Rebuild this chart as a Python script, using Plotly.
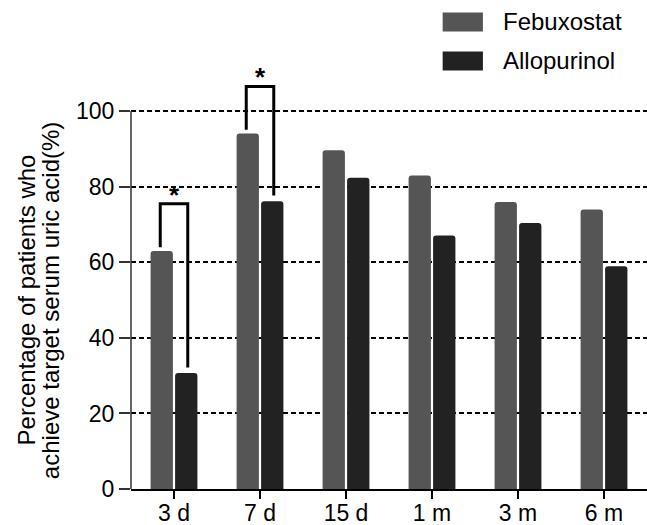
import plotly.graph_objects as go

# ---- data ----
categories = ["3 d", "7 d", "15 d", "1 m", "3 m", "6 m"]
febuxostat = [63.0, 94.1, 89.7, 83.0, 76.0, 74.0]
allopurinol = [30.7, 76.2, 82.4, 67.1, 70.4, 59.0]
series_names = ["Febuxostat", "Allopurinol"]
significant = ["3 d", "7 d"]
y_ticks = [0, 20, 40, 60, 80, 100]

FONT = "Liberation Sans, Arial, Helvetica, sans-serif"
C_FEB = "#555555"
C_ALLO = "#222222"

fig = go.Figure()
fig.add_trace(go.Bar(x=categories, y=febuxostat, name=series_names[0],
                     marker=dict(color=C_FEB, line=dict(width=0), cornerradius=3)))
fig.add_trace(go.Bar(x=categories, y=allopurinol, name=series_names[1],
                     marker=dict(color=C_ALLO, line=dict(width=0), cornerradius=3)))

shapes = []
annotations = []

# significance brackets
for cat in significant:
    i = categories.index(cat)
    f, a = febuxostat[i], allopurinol[i]
    top = max(f, a) + 12.5
    dx = 0.16
    shapes.append(dict(type="path", xref="x", yref="y",
                       path=f"M {i-dx},{f+1} L {i-dx},{top} L {i+dx},{top} L {i+dx},{a+1.5}",
                       line=dict(color="black", width=3)))
    annotations.append(dict(x=i, y=top, xref="x", yref="y", text="<b>*</b>", showarrow=False,
                            yanchor="middle", yshift=9,
                            font=dict(family=FONT, size=26, color="black")))

# y axis line (0..100 only)
shapes.append(dict(type="line", xref="paper", yref="y", x0=0, x1=0, y0=0, y1=max(y_ticks),
                   line=dict(color="#333333", width=1.5)))

# custom legend
legend_rows = [(1.1267, 1.0818, C_FEB), (1.0345, 0.9896, C_ALLO)]
for name, (y1, y0, col) in zip(series_names, legend_rows):
    shapes.append(dict(type="rect", xref="paper", yref="paper", x0=0.604, x1=0.682,
                       y0=y0, y1=y1, fillcolor=col, line=dict(width=0)))
    annotations.append(dict(x=0.717, y=(y0 + y1) / 2, xref="paper", yref="paper",
                            text=name, showarrow=False, xanchor="left", yanchor="middle",
                            font=dict(family=FONT, size=24, color="black")))

# y-axis title (two lines)
annotations.append(dict(x=-0.203, y=50, xref="paper", yref="y",
                        text="Percentage of patients who", showarrow=False, textangle=-90,
                        xanchor="center", yanchor="middle",
                        font=dict(family=FONT, size=24, color="black")))
annotations.append(dict(x=-0.157, y=50, xref="paper", yref="y",
                        text="achieve target serum uric acid(%)", showarrow=False, textangle=-90,
                        xanchor="center", yanchor="middle",
                        font=dict(family=FONT, size=24, color="black")))

fig.update_layout(
    width=647, height=525,
    margin=dict(l=131, r=0, t=66, b=36, autoexpand=False),
    paper_bgcolor="white", plot_bgcolor="white",
    barmode="group", bargap=0.43, bargroupgap=0.09,
    showlegend=False,
    font=dict(family=FONT, size=24, color="black"),
    shapes=shapes, annotations=annotations,
    xaxis=dict(type="category", showline=True, linecolor="black", linewidth=1.5,
               ticks="outside", ticklen=8, tickwidth=1.5, tickcolor="black",
               ticklabelstandoff=-5,
               showgrid=False, zeroline=False, automargin=False,
               tickfont=dict(family=FONT, size=23, color="black")),
    yaxis=dict(range=[0, 112], tickvals=y_ticks, showline=False,
               ticks="outside", ticklen=11, tickwidth=1.5, tickcolor="#333333",
               showgrid=True, gridcolor="black", gridwidth=1.5, griddash="5px,3px",
               zeroline=False, automargin=False,
               tickfont=dict(family=FONT, size=23, color="black")),
)

fig.write_html("out.html", config={"displayModeBar": False},
               post_script="document.body.style.margin='0';document.body.style.overflow='hidden';")
